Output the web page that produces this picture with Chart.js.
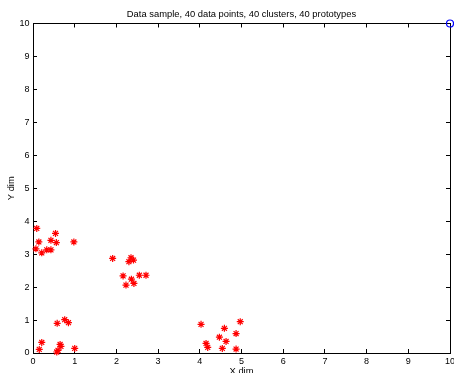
<!DOCTYPE html>
<html><head><meta charset="utf-8">
<script src="https://cdn.jsdelivr.net/npm/chart.js@4"></script>
<style>html,body{margin:0;padding:0;background:#fff;overflow:hidden}</style>
</head><body>
<canvas id="c" width="454" height="373"></canvas>
<script>
const chartTitle = 'Data sample, 40 data points, 40 clusters, 40 prototypes';
const xAxisLabel = 'X dim';
const yAxisLabel = 'Y dim';
const xTickValues = [0,1,2,3,4,5,6,7,8,9,10];
const yTickValues = [0,1,2,3,4,5,6,7,8,9,10];
const pointsX = [0.09,0.14,0.07,0.21,0.33,0.43,0.43,0.54,0.56,0.98,
                 0.58,0.76,0.85,0.21,0.15,0.57,0.60,0.65,0.67,1.00,
                 1.91,2.35,2.41,2.30,2.16,2.55,2.71,2.36,2.42,2.23,
                 4.03,4.97,4.59,4.87,4.47,4.15,4.19,4.63,4.54,4.87];
const pointsY = [3.78,3.37,3.16,3.04,3.13,3.13,3.42,3.63,3.35,3.37,
                 0.90,1.01,0.92,0.32,0.11,0.03,0.08,0.26,0.20,0.14,
                 2.87,2.89,2.82,2.77,2.34,2.36,2.36,2.24,2.11,2.06,
                 0.87,0.95,0.75,0.59,0.48,0.29,0.17,0.35,0.14,0.12];
const protoX = [10];
const protoY = [10];

const FONT = '"Liberation Sans", Arial, Helvetica, sans-serif';
const tickFromList = list => (axis) => { axis.ticks = list.map(v => ({value: v})); };

const baseScale = (pos, list, showLabels) => ({
  type: 'linear', position: pos, min: 0, max: 10,
  afterBuildTicks: tickFromList(list),
  border: {display: true, color: '#000', width: 1},
  grid: {display: true, drawOnChartArea: false, drawTicks: true, tickLength: -4, color: '#000', lineWidth: 1},
  ticks: {display: showLabels, color: '#000', font: {family: FONT, size: 9}, maxRotation: 0, autoSkip: false}
});

const xScale = baseScale('bottom', xTickValues, true);
xScale.ticks.padding = 7;
xScale.title = {display: true, text: xAxisLabel, color: '#000', font: {family: FONT, size: 9.4}, padding: {top: 0, bottom: -4}};
xScale.afterFit = s => { s.height = 20; s.paddingLeft = 0; s.paddingRight = 0; };

const yScale = baseScale('left', yTickValues, true);
yScale.ticks.padding = 7.5;
yScale.title = {display: true, text: yAxisLabel, color: '#000', font: {family: FONT, size: 9.4}, padding: {top: 6, bottom: 0}};
yScale.afterFit = s => { s.width = 33; };

const x2Scale = baseScale('top', xTickValues, false);
x2Scale.afterFit = s => { s.height = 0; s.paddingLeft = 0; s.paddingRight = 0; };
const y2Scale = baseScale('right', yTickValues, false);
y2Scale.afterFit = s => { s.width = 0; s.paddingTop = 0; s.paddingBottom = 0; };

new Chart(document.getElementById('c'), {
  type: 'scatter',
  data: {
    datasets: [
      {
        label: 'data',
        data: pointsX.map((x, i) => ({x: x, y: pointsY[i]})),
        pointStyle: 'star', pointRadius: 3.5, borderColor: '#ff0000', backgroundColor: '#ff0000',
        borderWidth: 1.2, showLine: false, clip: false, xAxisID: 'x', yAxisID: 'y'
      },
      {
        label: 'prototypes',
        data: protoX.map((x, i) => ({x: x, y: protoY[i]})),
        pointStyle: 'circle', pointRadius: 3.5, borderColor: '#0000ff', backgroundColor: 'rgba(0,0,0,0)',
        borderWidth: 1.2, showLine: false, clip: false, xAxisID: 'x', yAxisID: 'y'
      }
    ]
  },
  options: {
    responsive: false, animation: false, devicePixelRatio: 1,
    layout: {autoPadding: false, padding: {top: 0, right: 4, bottom: 0, left: 0}},
    plugins: {
      legend: {display: false}, tooltip: {enabled: false},
      title: {display: true, text: chartTitle, color: '#000', fullSize: false,
              font: {family: FONT, size: 9.4, weight: 'normal'}, padding: {top: 9, bottom: 3.2}}
    },
    scales: {x: xScale, y: yScale, x2: x2Scale, y2: y2Scale}
  }
});
</script>
</body></html>
